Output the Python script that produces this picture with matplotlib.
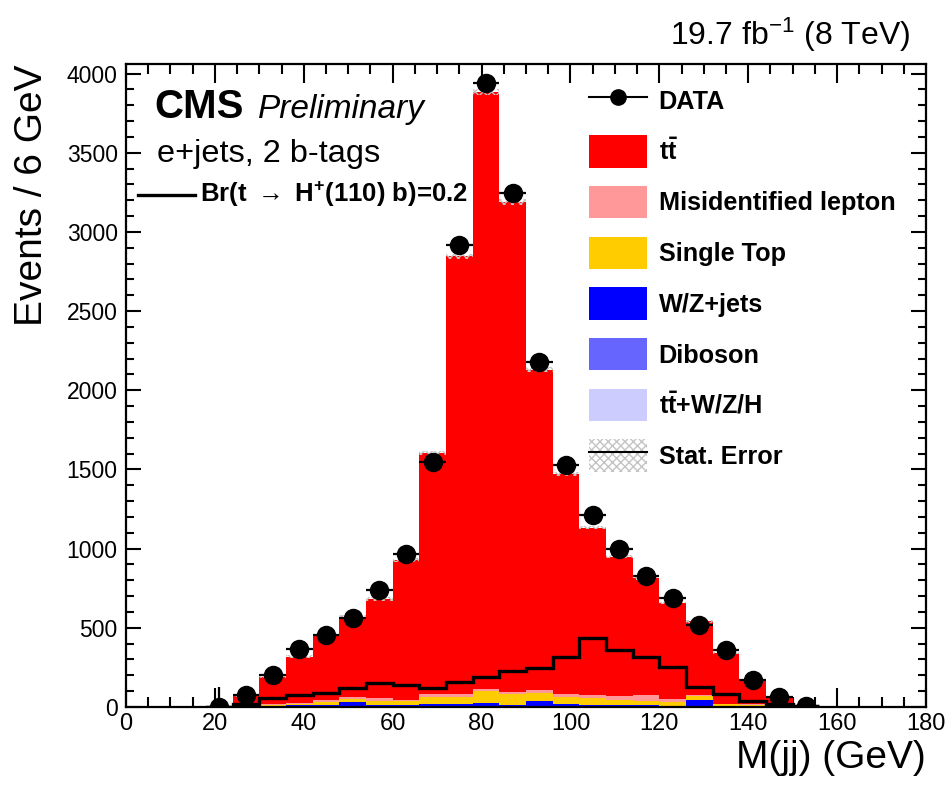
import numpy as np
import matplotlib
matplotlib.use('Agg')
import matplotlib.pyplot as plt
from matplotlib.patches import Patch
from matplotlib.lines import Line2D

plt.rcParams['font.family'] = ['Liberation Sans', 'DejaVu Sans']
plt.rcParams['mathtext.fontset'] = 'custom'
plt.rcParams['mathtext.rm'] = 'Liberation Sans'
plt.rcParams['mathtext.bf'] = 'Liberation Sans:bold'
plt.rcParams['mathtext.it'] = 'Liberation Sans:italic'
plt.rcParams['hatch.linewidth'] = 1.0

# 6 GeV bins from 0 to 180
edges = np.arange(0, 186, 6)

# stacked backgrounds, one value per bin
tth = [0, 0, 0, 0, 3, 4, 4, 5, 5, 6, 6, 6, 6, 6, 6, 6, 6, 5, 5, 5, 4, 4, 3, 3, 2, 1, 0, 0, 0, 0]
diboson = [0, 0, 0, 0, 1, 1, 2, 2, 3, 2, 2, 2, 2, 3, 2, 3, 2, 2, 2, 2, 2, 3, 1, 1, 1, 0, 0, 0, 0, 0]
wzjets = [0, 0, 0, 0, 2, 3, 6, 8, 24, 6, 3, 10, 8, 15, 5, 28, 10, 5, 8, 4, 3, 35, 3, 2, 1, 0, 0, 0, 0, 0]
singletop = [0, 0, 0, 0, 4, 5, 6, 14, 21, 25, 28, 46, 48, 80, 70, 52, 42, 46, 31, 25, 21, 25, 10, 8, 2, 0, 0, 0, 0, 0]
misid = [0, 0, 0, 0, 5, 6, 8, 18, 12, 15, 8, 20, 15, 10, 13, 21, 25, 17, 21, 38, 21, 6, 4, 3, 2, 0, 0, 0, 0, 0]
ttbar = [0, 0, 0, 0, 55, 172, 292, 408, 506, 627, 882, 1521, 2766, 3770, 3091, 2020, 1387,
         1058, 883, 741, 606, 467, 320, 153, 57, 2, 0, 0, 0, 0]
stat_err = [0, 0, 0, 0, 4, 6, 8, 9, 10, 11, 12, 14, 18, 20, 18, 15, 13, 12, 11, 10, 9, 8, 7, 5, 3, 1, 0, 0, 0, 0]

# H+ signal, Br = 0.2
signal = [0, 0, 0, 0, 19, 59, 76, 90, 122, 154, 139, 118, 156, 192, 227, 244, 318, 434,
          360, 314, 251, 124, 82, 40, 19, 6, 0, 0, 0, 0]

# data points
data = [0, 0, 0, 0, 75, 202, 365, 452, 562, 740, 965, 1545, 2915, 3937, 3248, 2180, 1530,
        1213, 1000, 828, 690, 515, 363, 173, 61, 7, 0, 0, 0, 0]
data_err = [0, 0, 0, 125, 9, 14, 19, 21, 24, 27, 31, 39, 54, 63, 57, 47, 39, 35, 32, 29,
            26, 23, 19, 13, 8, 3, 0, 0, 0, 0]

names = ['t$\\mathbf{\\bar{t}}$+W/Z/H', 'Diboson', 'W/Z+jets', 'Single Top',
         'Misidentified lepton', 't$\\mathbf{\\bar{t}}$']
colors = ['#ccccff', '#6666ff', '#0000ff', '#ffcc00', '#ff9999', '#ff0000']
stack = [tth, diboson, wzjets, singletop, misid, ttbar]

fig = plt.figure(figsize=(9.46, 7.9), dpi=100)
ax = fig.add_axes([126 / 946, 83 / 790, 800 / 946, 643 / 790])

bottom = np.zeros(len(edges) - 1)
for vals, c in zip(stack, colors):
    top = bottom + np.array(vals)
    ax.stairs(top, edges, baseline=bottom, fill=True, color=c, lw=0, zorder=2)
    bottom = top
mc = bottom
err = np.array(stat_err)

# stat error band
sel = slice(4, 26)
ax.stairs((mc + err)[sel], edges[4:27], baseline=(mc - err)[sel], fill=True,
          facecolor='none', edgecolor='#c4c4c4', hatch='xxxx', lw=0, zorder=3)

# signal line
ax.stairs(np.array(signal)[3:26], edges[3:27], baseline=None, color='black', lw=2.4, zorder=4)

# data
centers = 0.5 * (edges[:-1] + edges[1:])
d = np.array(data)
de = np.array(data_err)
ax.errorbar(centers[3:26], d[3:26], xerr=3, yerr=de[3:26], fmt='o', color='black',
            markersize=13, elinewidth=1.6, capsize=0, zorder=5, clip_on=True)

ax.set_xlim(0, 180)
ax.set_ylim(0, 4060)
ax.set_xticks(np.arange(0, 181, 20))
ax.set_xticks(np.arange(0, 181, 5), minor=True)
ax.set_yticks(np.arange(0, 4001, 500))
ax.set_yticks(np.arange(0, 4060, 100), minor=True)
ax.tick_params(axis='both', which='both', direction='in', top=True, right=True, width=1.5)
ax.tick_params(axis='x', which='major', length=14, labelsize=17, pad=4)
ax.tick_params(axis='x', which='minor', length=7)
ax.tick_params(axis='y', which='major', length=11, labelsize=16.5, pad=6)
ax.tick_params(axis='y', which='minor', length=6)
for s in ax.spines.values():
    s.set_linewidth(1.6)
    s.set_zorder(6)

ax.set_xlabel('M(jj) (GeV)', fontsize=28, loc='right', labelpad=4)
ax.set_ylabel('Events / 6 GeV', fontsize=28, loc='top', labelpad=12)

ax.text(0.036, 0.916, 'CMS', transform=ax.transAxes, fontsize=29, fontweight='bold', va='baseline')
ax.text(0.165, 0.916, 'Preliminary', transform=ax.transAxes, fontsize=24, style='italic', va='baseline')
ax.text(0.039, 0.848, 'e+jets, 2 b-tags', transform=ax.transAxes, fontsize=23.4, va='baseline')
ax.plot([0.015, 0.086], [0.796, 0.796], transform=ax.transAxes, color='black', lw=2.4)
ax.text(0.0925, 0.797, 'Br(t $\\rightarrow$ H$^{\\mathbf{+}}$(110) b)=0.2', transform=ax.transAxes,
        fontsize=18.5, fontweight='bold', va='center')
fig.text(910 / 946, 745 / 790, '19.7 fb$^{-1}$ (8 TeV)', fontsize=23, ha='right', va='baseline')

handles = [Line2D([], [], color='black', marker='o', markersize=11, lw=1.5)]
labels = ['DATA']
for n, c in zip(names[::-1], colors[::-1]):
    handles.append(Patch(facecolor=c, edgecolor='none'))
    labels.append(n)
handles.append((Patch(facecolor='white', edgecolor='#c4c4c4', hatch='xxxx', lw=0),
                Line2D([], [], color='black', lw=1.5)))
labels.append('Stat. Error')
leg = ax.legend(handles, labels, loc='upper left', bbox_to_anchor=(0.579, 0.968),
                frameon=False, borderpad=0, borderaxespad=0, handlelength=2.3,
                handleheight=1.6, handletextpad=0.45, labelspacing=0.72,
                prop={'size': 18.2, 'weight': 'bold'})

fig.savefig('out.png', dpi=100)
